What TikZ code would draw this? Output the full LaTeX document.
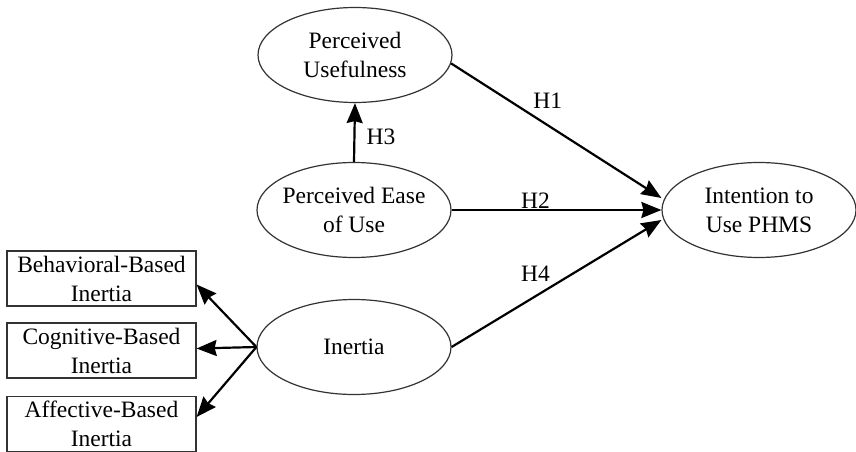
\documentclass[tikz,border=0pt]{standalone}
\usepackage{fontspec}
\setmainfont{Liberation Serif}
\usetikzlibrary{arrows.meta, shapes.geometric}
\tikzset{>={Stealth[length=20pt,width=16pt,inset=2pt]}}

\begin{document}
\begin{tikzpicture}[x=1pt, y=-1pt,
  every node/.style={font=\fontsize{23.5}{29}\selectfont, align=center},
  construct/.style={ellipse, draw=black!80, line width=1.2pt, minimum width=194pt, minimum height=95pt, inner sep=-6pt},
  dimbox/.style={rectangle, draw=black!80, line width=1.2pt, minimum width=189pt, minimum height=55pt, inner sep=0pt},
  link/.style={->, line width=2.2pt},
  hyp/.style={anchor=base}]
\useasboundingbox (0,0) rectangle (856,452);
\node[construct] (pu) at (355,55) {Perceived\\Usefulness};
\node[construct] (peou) at (354,210) {Perceived Ease\\of Use};
\node[construct] (int) at (759,210) {Intention to\\Use PHMS};
\node[construct] (in) at (354,347) {Inertia};
\node[dimbox] (bbi) at (101.5,278.5) {Behavioral-Based\\Inertia};
\node[dimbox] (cbi) at (101.5,350.5) {Cognitive-Based\\Inertia};
\node[dimbox] (abi) at (101.5,424) {Affective-Based\\Inertia};
\draw[link] (peou.north) -- (pu.south) node[pos=0.3, anchor=base west, xshift=8pt]{H3};
\draw[link] (pu.-5) -- ([yshift=12pt]int.west) node[hyp, pos=0.46, yshift=17pt]{H1};
\draw[link] (peou.east) -- (int.west) node[hyp, pos=0.4, yshift=2pt]{H2};
\draw[link] (in.east) -- ([yshift=-10pt]int.west) node[hyp, pos=0.4, yshift=15pt]{H4};
\draw[link] (in.west) -- ([yshift=-6pt]bbi.east);
\draw[link] (in.west) -- ([yshift=2pt]cbi.east);
\draw[link] (in.west) -- ([yshift=7pt]abi.east);
\end{tikzpicture}
\end{document}
